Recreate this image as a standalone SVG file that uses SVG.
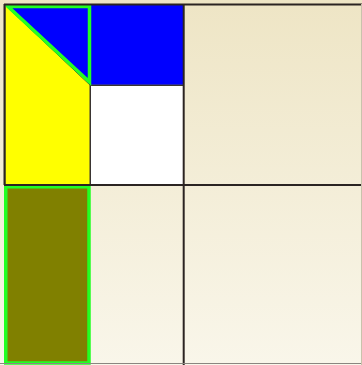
<svg xmlns="http://www.w3.org/2000/svg" width="362" height="365" viewBox="0 0 362 365">
<defs>
<linearGradient id="bg" x1="0" y1="0" x2="0" y2="1">
<stop offset="0" stop-color="#eee5c5"/>
<stop offset="1" stop-color="#f9f6ea"/>
</linearGradient>
</defs>
<style>
.grid{stroke:#2b2422;stroke-width:2;fill:none}
.thin{stroke:#3a3532;stroke-width:1}
.hl{stroke:#22ff22;stroke-width:3.5}
</style>
<rect width="362" height="365" fill="url(#bg)"/>
<g id="yellow"><polygon points="5,5 90,85 90,185 5,185" fill="#ffff00" class="thin"/></g>
<g id="blue"><rect x="90" y="5" width="94" height="80" fill="#0000ff"/><line x1="90" y1="85" x2="184" y2="85" stroke="#555" stroke-width="1"/></g>
<g id="white"><rect x="90.5" y="85.5" width="93" height="99" fill="#ffffff" class="thin"/></g>
<g id="triangle"><polygon points="8,6.5 89.5,6.5 89.5,82" fill="#0000ff" class="hl" stroke-linejoin="miter"/></g>
<g id="olive"><rect x="5.75" y="186.75" width="83.25" height="176.25" fill="#808000" class="hl"/></g>
<g id="connectors">
<line class="grid" x1="4" y1="4.5" x2="362" y2="4.5"/>
<line class="grid" x1="4.5" y1="4" x2="4.5" y2="185"/>
<line class="grid" x1="183.7" y1="4" x2="183.7" y2="365"/>
<line class="grid" x1="4" y1="185" x2="362" y2="185"/>
<line x1="0" y1="363.5" x2="362" y2="363.5" stroke="#8a8680" stroke-width="1"/>
<line x1="361.5" y1="4" x2="361.5" y2="365" stroke="#c9c2ac" stroke-width="1"/>
</g>
</svg>
